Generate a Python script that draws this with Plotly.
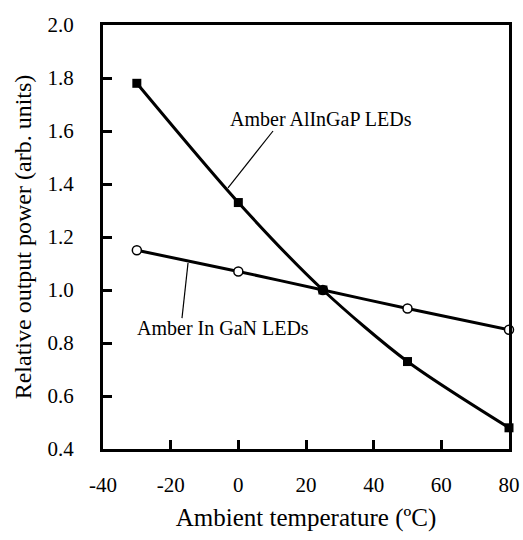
import plotly.graph_objects as go

temps = [-30, 0, 25, 50, 80]
alingap = [1.78, 1.33, 1.00, 0.73, 0.48]
ingan = [1.15, 1.07, 1.00, 0.93, 0.85]

x_ticks = [-40, -20, 0, 20, 40, 60, 80]
y_ticks = [0.4, 0.6, 0.8, 1.0, 1.2, 1.4, 1.6, 1.8, 2.0]

FONT = "Liberation Serif"

fig = go.Figure()
fig.add_trace(go.Scatter(
    x=temps, y=ingan, mode="lines+markers",
    line=dict(color="black", width=3, shape="spline", smoothing=0.6),
    marker=dict(symbol="circle", size=9, color="white", line=dict(color="black", width=1.5)),
    showlegend=False, cliponaxis=False))
fig.add_trace(go.Scatter(
    x=temps, y=alingap, mode="lines+markers",
    line=dict(color="black", width=3, shape="spline", smoothing=0.8),
    marker=dict(symbol="square", size=9, color="black"),
    showlegend=False, cliponaxis=False))

# leader lines
fig.add_shape(type="line", x0=10.25, y0=1.60, x1=-3.05, y1=1.385,
              xref="x", yref="y", line=dict(color="black", width=1.2))
fig.add_shape(type="line", x0=-14.87, y0=1.102, x1=-16.65, y1=0.894,
              xref="x", yref="y", line=dict(color="black", width=1.2))

fig.add_annotation(x=-3.05, y=1.645, text="Amber AlInGaP LEDs", showarrow=False,
                   xanchor="left", yanchor="middle", font=dict(family=FONT, size=20, color="black"))
fig.add_annotation(x=-30.5, y=0.857, text="Amber In GaN LEDs", showarrow=False,
                   xanchor="left", yanchor="middle", font=dict(family=FONT, size=20, color="black"))

axis_common = dict(showline=True, linecolor="black", linewidth=3, mirror=True,
                   ticks="inside", ticklen=9, tickwidth=2.5, tickcolor="black",
                   showgrid=False, zeroline=False, automargin=False,
                   tickfont=dict(family=FONT, size=21, color="black"))

fig.update_xaxes(range=[-40, 80], tickvals=x_ticks, ticktext=[str(v) for v in x_ticks],
                 title=dict(text="Ambient temperature (ºC)", font=dict(family=FONT, size=25, color="black"), standoff=13),
                 ticklabelstandoff=15, **axis_common)
fig.update_yaxes(range=[0.4, 2.0], tickvals=y_ticks, ticktext=[f"{v:.1f}" for v in y_ticks],
                 title=dict(text="Relative output power (arb. units)", font=dict(family=FONT, size=24, color="black"), standoff=10),
                 ticklabelstandoff=22, **axis_common)

fig.update_layout(width=523, height=540, margin=dict(l=103, r=14, t=25, b=91),
                  plot_bgcolor="white", paper_bgcolor="white",
                  font=dict(family=FONT, color="black"))

fig.write_html("out.html")
